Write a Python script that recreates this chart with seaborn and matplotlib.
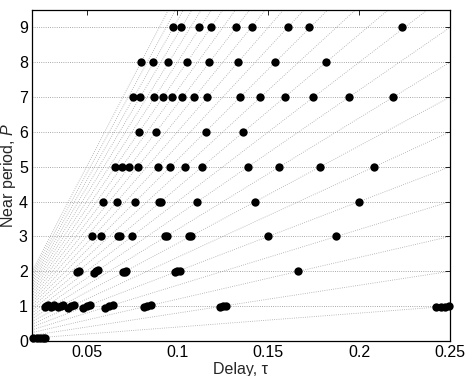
import pandas as pd
import matplotlib
matplotlib.use("Agg")
import matplotlib.pyplot as plt
import seaborn as sns

# delays (tau) of the dots on each near-period row
tau_p9 = [0.0975, 0.1020, 0.1118, 0.1185, 0.1322, 0.1408, 0.1606, 0.1725, 0.2238]
tau_p8 = [0.0800, 0.0866, 0.0948, 0.1052, 0.1174, 0.1332, 0.1536, 0.1816]
tau_p7 = [0.0757, 0.0794, 0.0870, 0.0920, 0.0971, 0.1028, 0.1092, 0.1165,
          0.1345, 0.1456, 0.1590, 0.1748, 0.1943, 0.2185]
tau_p6 = [0.0789, 0.0882, 0.1155, 0.1362]
tau_p5 = [0.0657, 0.0695, 0.0734, 0.0781, 0.0893, 0.0962, 0.1042, 0.1136,
          0.1388, 0.1561, 0.1784, 0.2080]
tau_p4 = [0.0588, 0.0666, 0.0768, 0.0898, 0.0912, 0.1110, 0.1428, 0.1998]
tau_p3 = [0.0532, 0.0578, 0.0676, 0.0684, 0.0750, 0.0930, 0.0942,
          0.1066, 0.1074, 0.1498, 0.1873]

# the low rows are smeared blobs, so they get their own period values
tau_p2 = [0.0450, 0.0458, 0.0543, 0.0553, 0.0562, 0.0700, 0.0710, 0.0719,
          0.0987, 0.1000, 0.1012, 0.1665]
per_p2 = [1.98, 2.02, 1.96, 2.00, 2.03, 1.97, 1.99, 2.01,
          1.98, 2.00, 2.02, 2.00]
tau_p1 = [0.0270, 0.0278, 0.0287, 0.0302, 0.0313, 0.0323, 0.0345, 0.0357, 0.0370,
          0.0400, 0.0417, 0.0432, 0.0482, 0.0500, 0.0518, 0.0602, 0.0625, 0.0648,
          0.0815, 0.0835, 0.0855, 0.1236, 0.1252, 0.1268,
          0.2425, 0.2448, 0.2472, 0.2495]
per_p1 = [0.97, 1.00, 1.03, 0.97, 1.00, 1.03, 0.97, 1.00, 1.04,
          0.96, 1.00, 1.04, 0.96, 1.00, 1.04, 0.96, 1.00, 1.04,
          0.98, 1.00, 1.025, 0.99, 1.00, 1.015,
          0.97, 0.98, 0.99, 1.00]
tau_p0 = [0.0208, 0.0225, 0.0242, 0.0258, 0.0274]
per_p0 = [0.08, 0.08, 0.08, 0.08, 0.08]

# slopes of the dotted guide rays P = slope * tau
fan_slopes = [4, 8, 12, 16, 20, 24, 28, 32, 36, 40, 44, 48, 52,
              56, 60, 64, 68, 72, 76, 80, 84, 88, 92, 96, 100]

x_ticks = [0.05, 0.1, 0.15, 0.2, 0.25]
x_tick_labels = ['0.05', '0.1', '0.15', '0.2', '0.25']
y_ticks = [0, 1, 2, 3, 4, 5, 6, 7, 8, 9]


def build_frame():
    rows = []
    for p, taus in [(9, tau_p9), (8, tau_p8), (7, tau_p7), (6, tau_p6),
                    (5, tau_p5), (4, tau_p4), (3, tau_p3)]:
        rows += [(t, p) for t in taus]
    rows += list(zip(tau_p2, per_p2))
    rows += list(zip(tau_p1, per_p1))
    rows += list(zip(tau_p0, per_p0))
    return pd.DataFrame(rows, columns=['tau', 'P'])


def main():
    sns.set_theme(style='white')
    plt.rcParams['font.family'] = ['Liberation Sans', 'DejaVu Sans']
    plt.rcParams['mathtext.fontset'] = 'custom'
    plt.rcParams['mathtext.it'] = 'Liberation Sans:italic'
    plt.rcParams['mathtext.rm'] = 'Liberation Sans'

    df = build_frame()

    fig = plt.figure(figsize=(4.65, 3.76), dpi=100)
    ax = fig.add_axes([0.0688, 0.0931, 0.8989, 0.8803])

    for s in fan_slopes:
        ax.axline((0, 0), slope=s, linestyle=':', color='0.65', lw=0.6, zorder=0)
    for y in y_ticks:
        ax.axhline(y, linestyle=':', color='0.55', lw=0.6, zorder=0.5)

    sns.scatterplot(data=df, x='tau', y='P', color='black', s=36, linewidth=0,
                    clip_on=False, zorder=3, ax=ax)

    ax.set_xlim(0.02, 0.25)
    ax.set_ylim(0, 9.5)
    ax.set_xticks(x_ticks)
    ax.set_xticklabels(x_tick_labels)
    ax.set_yticks(y_ticks)
    ax.tick_params(direction='in', length=3.5, width=0.6, labelsize=11.5,
                   top=True, right=True, pad=3, colors='black')
    for sp in ax.spines.values():
        sp.set_color('black')
        sp.set_linewidth(0.9)
    ax.set_xlabel('Delay, τ', fontsize=11.5, labelpad=1)
    ax.set_ylabel('Near period, $P$', fontsize=11.5, labelpad=0.5)

    fig.savefig('out.png', dpi=100)
    plt.close(fig)


if __name__ == "__main__":
    main()
